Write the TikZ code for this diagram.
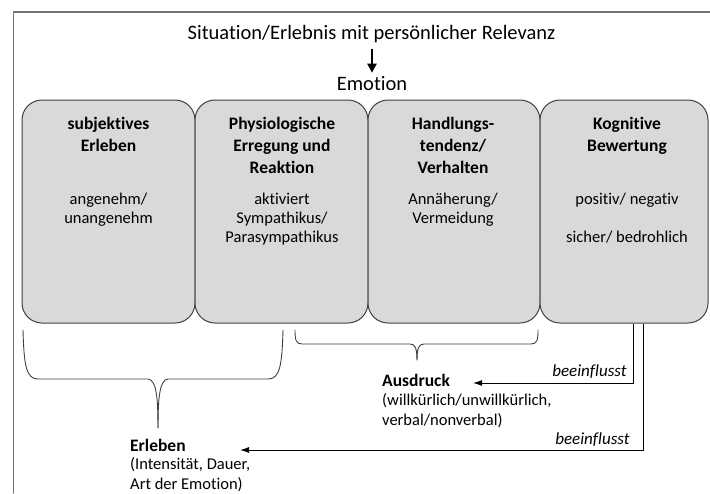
\documentclass[tikz,border=0pt]{standalone}
\usepackage{fontspec}
\setmainfont{Carlito}[Ligatures=NoCommon]
\usetikzlibrary{arrows.meta}

\begin{document}
\begin{tikzpicture}[x=1pt, y=-1pt, line cap=round, line join=round, >=Latex]
\tikzset{emobox/.style={draw=black!75, fill=black!15, line width=1pt, rounded corners=20pt, minimum height=223pt, inner sep=0pt},
  head/.style={font=\fontsize{17.5}{22}\selectfont\bfseries, align=center, anchor=base, inner sep=0pt},
  detail/.style={font=\fontsize{16.5}{19}\selectfont, align=center, anchor=base, inner sep=0pt},
  side/.style={font=\fontsize{16.5}{20}\selectfont, align=left, anchor=base west, inner sep=0pt},
  sidehead/.style={font=\fontsize{17.5}{20}\selectfont\bfseries, anchor=base west, inner sep=0pt},
  brace/.style={draw=black!75, line width=0.9pt},
  infl/.style={-{Latex[length=9pt,width=6pt]}, line width=1pt, line cap=butt},
  lbl/.style={font=\fontsize{17}{20}\selectfont\itshape, inner sep=0pt}}
\useasboundingbox (0,0) rectangle (710,493);

% frame
\draw[black!55, line width=1.5pt] (13.5,493) -- (13.5,12) -- (710,12);

% situation -> emotion
\node[font=\fontsize{20.5}{24}\selectfont, anchor=base, inner sep=0pt] (Sit) at (371.5,39) {Situation/Erlebnis mit persönlicher Relevanz};
\node[font=\fontsize{20.5}{24}\selectfont, anchor=base, inner sep=0pt] (Emo) at (372,90) {Emotion};
\draw[-{Triangle[length=9pt,width=9pt]}, line width=2.2pt, line cap=butt, shorten <=6pt, shorten >=3pt] (Sit.south -| Emo.north) -- (Emo.north);

% components (base = last line)
\node[emobox, minimum width=173pt] (B1) at (108.5,211.5) {};
\node[emobox, minimum width=173pt] (B2) at (281.5,211.5) {};
\node[emobox, minimum width=172pt] (B3) at (454,211.5) {};
\node[emobox, minimum width=168pt] (B4) at (624,211.5) {};

\node[head] (T1) at (108.5,151) {subjektives\\Erleben};
\node[head] (T2) at (282,173) {Physiologische\\Erregung und\\Reaktion};
\node[head] (T3) at (453,173) {Handlungs-\\tendenz/\\Verhalten};
\node[head] (T4) at (627,151) {Kognitive\\Bewertung};

\node[detail] (D1) at (108.5,223) {angenehm/\\unangenehm};
\node[detail] (D2) at (282,242) {aktiviert\\Sympathikus/\\Parasympathikus};
\node[detail] (D3) at (453,223) {Annäherung/\\Vermeidung};
\node[detail] (D4) at (627,242) {positiv/ negativ\\[19pt]sicher/ bedrohlich};

% braces
\draw[brace] (23,330) .. controls (24,365) and (26,379) .. (38,379) -- (148,379) .. controls (156,380) and (158,395) .. (158,428);
\draw[brace] (158,428) .. controls (158,395) and (160,380) .. (168,379) -- (268,379) .. controls (280,379) and (282,365) .. (283,330);
\draw[brace] (295,330) .. controls (295,340) and (296,344) .. (302,344) -- (410,344) .. controls (415,344) and (417,348) .. (417,360);
\draw[brace] (417,360) .. controls (417,348) and (419,344) .. (424,344) -- (531,344) .. controls (537,344) and (538,340) .. (538,330);

% expression and experience
\node[sidehead] (Aus) at (382,386) {Ausdruck};
\node[side] (AusD) at (382,425) {(willkürlich/unwillkürlich,\\verbal/nonverbal)};
\node[sidehead] (Erl) at (130,451) {Erleben};
\node[side] (ErlD) at (130,489) {(Intensität, Dauer,\\Art der Emotion)};

\coordinate (ausIn) at (473,383);
\coordinate (erlIn) at (240,450);
\draw[infl] ([xshift=9pt]B4.south) |- (ausIn) node[lbl, pos=0.5, anchor=south east, xshift=-6pt, yshift=4pt] {beeinflusst};
\draw[infl] ([xshift=19pt]B4.south) |- (erlIn) node[lbl, pos=0.5, anchor=south east, xshift=-13pt, yshift=3pt] {beeinflusst};
\end{tikzpicture}
\end{document}
